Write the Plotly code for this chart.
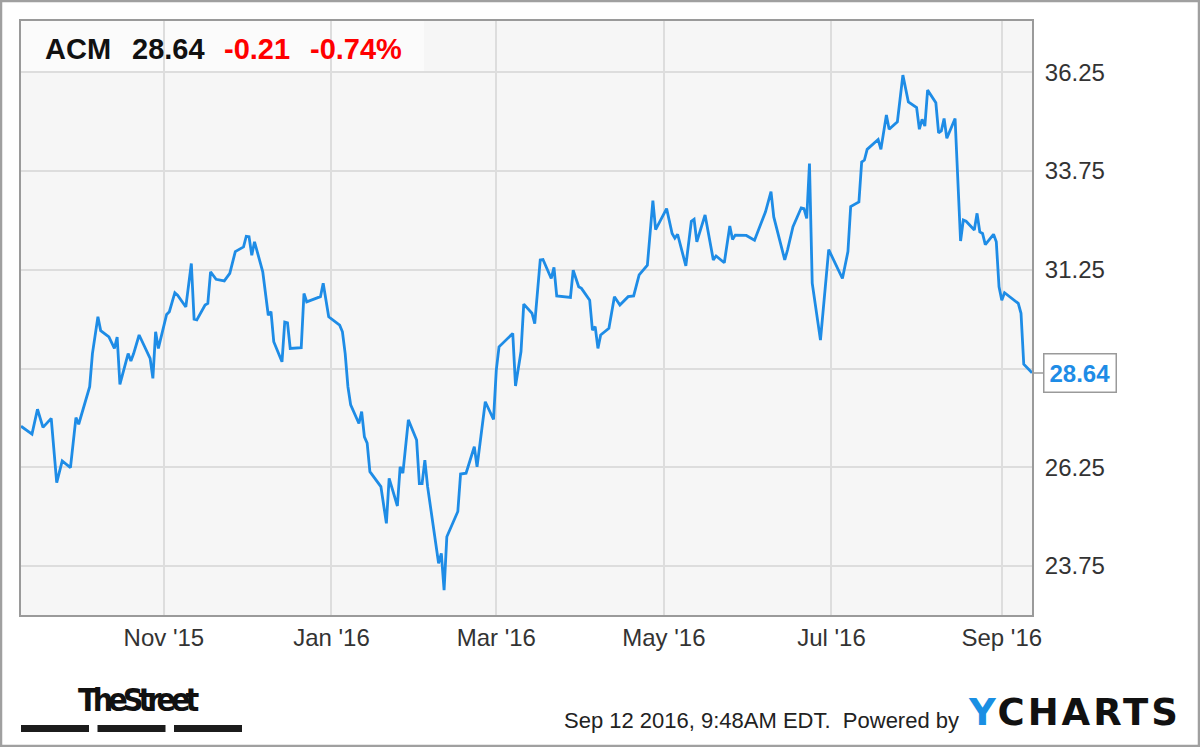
import plotly.graph_objects as go

# ---------------- data ----------------
ticker = "ACM"
last_price = 28.64
change = -0.21
change_pct = -0.74

dates = [
    "2015-09-10", "2015-09-14", "2015-09-16", "2015-09-18", "2015-09-21", "2015-09-23",
    "2015-09-25", "2015-09-28", "2015-09-30", "2015-10-01", "2015-10-05", "2015-10-06",
    "2015-10-08", "2015-10-09", "2015-10-12", "2015-10-14", "2015-10-15", "2015-10-16",
    "2015-10-19", "2015-10-20", "2015-10-21", "2015-10-23", "2015-10-27", "2015-10-28",
    "2015-10-29", "2015-10-30", "2015-11-02", "2015-11-03", "2015-11-05", "2015-11-06",
    "2015-11-09", "2015-11-11", "2015-11-12", "2015-11-13", "2015-11-16", "2015-11-17",
    "2015-11-18", "2015-11-20", "2015-11-23", "2015-11-25", "2015-11-27", "2015-11-30",
    "2015-12-01", "2015-12-02", "2015-12-03", "2015-12-04", "2015-12-07", "2015-12-09",
    "2015-12-10", "2015-12-11", "2015-12-14", "2015-12-15", "2015-12-16", "2015-12-17",
    "2015-12-21", "2015-12-22", "2015-12-23", "2015-12-28", "2015-12-29", "2015-12-31",
    "2016-01-04", "2016-01-05", "2016-01-06", "2016-01-07", "2016-01-08", "2016-01-11",
    "2016-01-12", "2016-01-13", "2016-01-14", "2016-01-15", "2016-01-19", "2016-01-21",
    "2016-01-22", "2016-01-25", "2016-01-26", "2016-01-27", "2016-01-29", "2016-02-01",
    "2016-02-02", "2016-02-03", "2016-02-04", "2016-02-05", "2016-02-09", "2016-02-10",
    "2016-02-11", "2016-02-12", "2016-02-16", "2016-02-17", "2016-02-19", "2016-02-22",
    "2016-02-23", "2016-02-26", "2016-02-29", "2016-03-01", "2016-03-02", "2016-03-04",
    "2016-03-07", "2016-03-08", "2016-03-10", "2016-03-11", "2016-03-14", "2016-03-15",
    "2016-03-17", "2016-03-18", "2016-03-21", "2016-03-22", "2016-03-23", "2016-03-28",
    "2016-03-29", "2016-03-31", "2016-04-01", "2016-04-04", "2016-04-05", "2016-04-06",
    "2016-04-07", "2016-04-08", "2016-04-11", "2016-04-13", "2016-04-15", "2016-04-18",
    "2016-04-20", "2016-04-22", "2016-04-25", "2016-04-27", "2016-04-28", "2016-05-02",
    "2016-05-04", "2016-05-05", "2016-05-06", "2016-05-09", "2016-05-11", "2016-05-12",
    "2016-05-13", "2016-05-16", "2016-05-19", "2016-05-20", "2016-05-23", "2016-05-25",
    "2016-05-26", "2016-05-27", "2016-05-31", "2016-06-03", "2016-06-07", "2016-06-09",
    "2016-06-10", "2016-06-14", "2016-06-15", "2016-06-17", "2016-06-20", "2016-06-21",
    "2016-06-22", "2016-06-23", "2016-06-24", "2016-06-27", "2016-06-30", "2016-07-05",
    "2016-07-07", "2016-07-08", "2016-07-11", "2016-07-12", "2016-07-13", "2016-07-14",
    "2016-07-18", "2016-07-19", "2016-07-21", "2016-07-22", "2016-07-25", "2016-07-27",
    "2016-07-29", "2016-08-01", "2016-08-02", "2016-08-03", "2016-08-04", "2016-08-05",
    "2016-08-08", "2016-08-09", "2016-08-10", "2016-08-11", "2016-08-12", "2016-08-15",
    "2016-08-17", "2016-08-18", "2016-08-19", "2016-08-22", "2016-08-23", "2016-08-24",
    "2016-08-25", "2016-08-26", "2016-08-29", "2016-08-30", "2016-08-31", "2016-09-01",
    "2016-09-02", "2016-09-07", "2016-09-08", "2016-09-09", "2016-09-12",
]

prices = [
    27.29, 27.09, 27.72, 27.26, 27.49, 25.86,
    26.41, 26.24, 27.51, 27.34, 28.29, 29.13,
    30.06, 29.71, 29.55, 29.26, 29.55, 28.35,
    29.13, 28.94, 29.13, 29.60, 29.01, 28.50,
    29.68, 29.26, 30.12, 30.19, 30.67, 30.61,
    30.31, 31.41, 30.00, 29.98, 30.36, 30.40,
    31.20, 31.01, 30.97, 31.16, 31.71, 31.83,
    32.10, 32.09, 31.62, 31.96, 31.20, 30.10,
    30.19, 29.43, 28.92, 29.93, 29.91, 29.26,
    29.28, 30.65, 30.44, 30.57, 30.91, 30.06,
    29.85, 29.68, 29.13, 28.29, 27.83, 27.36,
    27.66, 27.02, 26.86, 26.14, 25.76, 24.83,
    25.97, 25.27, 26.26, 26.10, 27.45, 26.94,
    25.84, 25.84, 26.43, 25.76, 23.82, 24.07,
    23.14, 24.49, 25.13, 26.08, 26.10, 26.77,
    26.26, 27.91, 27.46, 28.71, 29.30, 29.43,
    29.64, 28.31, 29.18, 30.38, 30.15, 29.89,
    31.50, 31.51, 31.03, 31.31, 30.59, 30.55,
    31.24, 30.82, 30.78, 30.48, 29.72, 29.81,
    29.26, 29.60, 29.77, 30.57, 30.36, 30.57,
    30.59, 31.12, 31.37, 33.00, 32.27, 32.80,
    32.17, 32.05, 32.15, 31.35, 32.48, 32.53,
    31.96, 32.64, 31.50, 31.60, 31.43, 32.36,
    32.02, 32.13, 32.12, 32.00, 32.72, 33.23,
    32.59, 31.50, 31.75, 32.34, 32.82, 32.80,
    32.55, 33.94, 30.91, 29.47, 31.76, 31.03,
    31.71, 32.85, 32.97, 33.98, 34.03, 34.30,
    34.55, 34.30, 35.17, 34.81, 35.00, 36.18,
    35.50, 35.36, 34.81, 35.06, 34.89, 35.80,
    35.48, 34.72, 34.77, 35.08, 34.58, 35.08,
    31.98, 32.51, 32.48, 32.26, 32.68, 32.21,
    32.17, 31.89, 32.15, 31.96, 30.82, 30.48,
    30.67, 30.40, 30.15, 28.86, 28.64,
]

x_tick_dates = ["2015-11-01", "2016-01-01", "2016-03-01", "2016-05-01", "2016-07-01", "2016-09-01"]
x_tick_text = ["Nov '15", "Jan '16", "Mar '16", "May '16", "Jul '16", "Sep '16"]
y_tick_vals = [23.75, 26.25, 28.75, 31.25, 33.75, 36.25]
# the 28.75 label sits behind the last-price callout in the original
y_tick_text = ["23.75", "26.25", "", "31.25", "33.75", "36.25"]

footer_text = "Sep 12 2016, 9:48AM EDT.  Powered by"

# ---------------- styling ----------------
LINE_BLUE = "#1e8ce6"
GRID = "#dddddd"
FRAME = "#9a9a9a"
FONT = "Liberation Sans, Arial, sans-serif"

W, H = 1200, 747
L, R, T, B = 21, 168, 21, 132
PW, PH = W - L - R, H - T - B


def px(xpix):
    return (xpix - L) / PW


def py(ypix):
    return 1 - (ypix - T) / PH


fig = go.Figure()
fig.add_trace(go.Scatter(
    x=dates, y=prices, mode="lines",
    line=dict(color=LINE_BLUE, width=2.8),
    hoverinfo="skip", showlegend=False,
))

fig.update_layout(
    width=W, height=H,
    margin=dict(l=L, r=R, t=T, b=B, pad=0),
    paper_bgcolor="white",
    plot_bgcolor="#f6f6f6",
    font=dict(family=FONT, color="#333333", size=24),
    showlegend=False,
)

fig.update_xaxes(
    type="date",
    range=["2015-09-10", "2016-09-12"],
    tickvals=x_tick_dates, ticktext=x_tick_text,
    showgrid=True, gridcolor=GRID, gridwidth=2,
    showline=True, linecolor=FRAME, linewidth=2, mirror=True,
    ticks="", zeroline=False,
    tickfont=dict(size=24, color="#333333", family=FONT),
)
fig.update_yaxes(
    range=[22.51, 37.55],
    side="right",
    tickvals=y_tick_vals, ticktext=y_tick_text,
    showgrid=True, gridcolor=GRID, gridwidth=2,
    showline=True, linecolor=FRAME, linewidth=2, mirror=True,
    ticks="", zeroline=False,
    tickfont=dict(size=24, color="#333333", family=FONT),
    ticklabelstandoff=6,
)

shapes = []
# header box (semi-transparent)
shapes.append(dict(type="rect", xref="paper", yref="paper",
                   x0=0, x1=px(424), y0=py(71), y1=1,
                   fillcolor="rgba(255,255,255,0.6)", line=dict(width=0), layer="between"))
# outer frame of the image
shapes.append(dict(type="rect", xref="paper", yref="paper",
                   x0=px(1), x1=px(1199), y0=py(746), y1=py(1),
                   line=dict(color="#a0a0a0", width=2.5), fillcolor="rgba(0,0,0,0)", layer="above"))
# TheStreet bars
for a, b in [(21, 89), (97.5, 165.5), (174, 242)]:
    shapes.append(dict(type="rect", xref="paper", yref="paper",
                       x0=px(a), x1=px(b), y0=py(732), y1=py(725),
                       fillcolor="#1c1c1c", line=dict(width=0), layer="above"))
fig.update_layout(shapes=shapes)

ann = []
hdr_y = py(49)
ann.append(dict(text="<b>%s</b>" % ticker, x=px(43), y=hdr_y, xref="paper", yref="paper",
                xanchor="left", yanchor="middle", showarrow=False,
                font=dict(size=29, color="#111111", family=FONT)))
ann.append(dict(text="<b>%.2f</b>" % last_price, x=px(130), y=hdr_y, xref="paper", yref="paper",
                xanchor="left", yanchor="middle", showarrow=False,
                font=dict(size=29, color="#111111", family=FONT)))
ann.append(dict(text="<b>%.2f</b>" % change, x=px(222), y=hdr_y, xref="paper", yref="paper",
                xanchor="left", yanchor="middle", showarrow=False,
                font=dict(size=29, color="#ff0000", family=FONT)))
ann.append(dict(text="<b>%.2f%%</b>" % change_pct, x=px(308), y=hdr_y, xref="paper", yref="paper",
                xanchor="left", yanchor="middle", showarrow=False,
                font=dict(size=29, color="#ff0000", family=FONT)))

# last value callout
ann.append(dict(text="<b>%.2f</b>" % prices[-1], x=dates[-1], y=prices[-1], xref="x", yref="y",
                showarrow=True, ax=11, ay=0, xanchor="left", yanchor="middle",
                arrowhead=0, arrowcolor=FRAME, arrowwidth=1.5,
                bgcolor="white", bordercolor=FRAME, borderwidth=1.5, borderpad=5,
                font=dict(size=24, color=LINE_BLUE, family=FONT)))

# footer
ann.append(dict(text=footer_text, x=px(961), y=py(720), xref="paper", yref="paper",
                xanchor="right", yanchor="middle", showarrow=False,
                font=dict(size=22, color="#222222", family=FONT)))
ann.append(dict(text="<b><span style='color:#1a8fe3;letter-spacing:3px'>Y</span>"
                     "<span style='letter-spacing:3px'>CHARTS</span></b>",
                x=px(966), y=py(712.5), xref="paper", yref="paper",
                xanchor="left", yanchor="middle", showarrow=False,
                font=dict(size=37, color="#111111", family="DejaVu Sans, Arial, sans-serif")))
ann.append(dict(text="<b><span style='letter-spacing:-5px'>TheStreet</span></b>",
                x=px(76), y=py(699.5), xref="paper", yref="paper",
                xanchor="left", yanchor="middle", showarrow=False,
                font=dict(size=32, color="#111111",
                          family="Liberation Sans Narrow, DejaVu Sans Condensed, Arial Narrow, Liberation Sans, sans-serif")))
fig.update_layout(annotations=ann)

fig.write_html(
    "out.html",
    config={"displayModeBar": False},
    post_script="document.body.style.margin='0';document.body.style.overflow='hidden';",
)
